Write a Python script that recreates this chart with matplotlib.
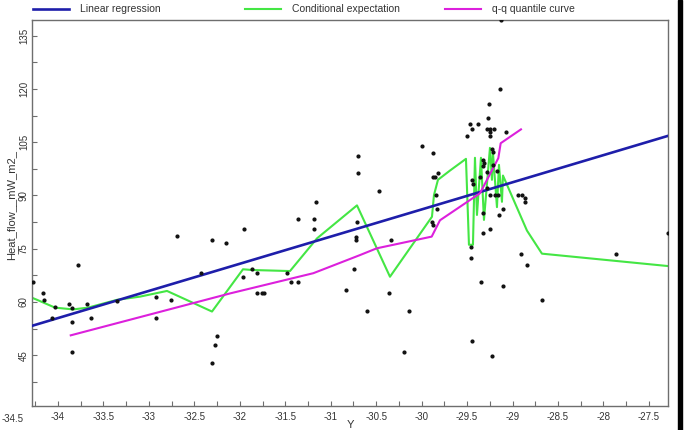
import numpy as np
import matplotlib
matplotlib.use('Agg')
import matplotlib.pyplot as plt
from matplotlib.patches import Rectangle
import matplotlib.ticker as mtick

plt.rcParams['font.family'] = ['Liberation Sans Narrow', 'Liberation Sans', 'DejaVu Sans']

# ── Data ────────────────────────────────────────────────────────────────────
pts_x = [-34.278, -34.168, -34.154, -34.033, -34.069, -33.876, -33.849, -33.849, -33.849,
         -33.783, -33.678, -33.640, -33.354, -32.925, -32.925, -32.754, -32.691, -32.424,
         -32.309, -32.148, -31.954, -32.254, -32.270, -32.309, -31.961, -31.869, -31.814,
         -31.814, -31.752, -31.730, -31.437, -31.363, -31.484, -31.356, -31.184, -31.184,
         -31.158, -30.828, -30.747, -30.722, -30.722, -30.707, -30.696, -30.696, -30.604,
         -30.472, -30.355, -30.337, -30.197, -30.139, -29.996, -29.875, -29.875, -29.856,
         -29.823, -29.842, -29.834, -29.889, -29.878,
         -29.138, -29.255, -29.266, -29.467, -29.376, -29.442, -29.277, -29.248, -29.204,
         -29.248, -29.248, -29.504, -29.072, -29.229, -29.211, -29.328, -29.310, -29.328,
         -29.211, -29.284, -29.174, -29.449, -29.431, -29.358, -29.284, -29.248, -29.193,
         -29.156, -28.936, -28.899, -28.862, -28.862, -29.321, -29.145, -29.101, -29.248,
         -29.321, -29.457, -29.457, -29.350, -29.101, -28.910, -28.837, -28.676, -29.442,
         -29.229, -27.858, -27.286, -29.13]
pts_y = [65.5, 62.5, 60.5, 58.6, 55.5, 59.5, 58.4, 54.4, 45.8,
         70.3, 59.5, 55.4, 60.4, 61.5, 55.5, 60.5, 78.5, 68.2,
         77.5, 76.5, 80.5, 50.4, 48.0, 42.9, 67.1, 69.2, 68.2,
         62.4, 62.4, 62.4, 65.5, 65.5, 68.2, 83.5, 83.5, 80.5,
         88.2, 63.5, 69.3, 78.4, 77.5, 82.5, 101.1, 96.2, 57.4,
         91.2, 62.4, 77.5, 45.9, 57.4, 103.8, 102.0, 95.3, 95.3,
         96.2, 90.2, 86.1, 82.6, 81.7,
         120.0, 115.8, 111.7, 110.0, 110.0, 108.7, 108.7, 108.7, 108.7,
         107.8, 106.8, 106.8, 107.8, 103.1, 102.2, 100.0, 99.2, 98.4,
         98.6, 96.7, 96.9, 94.4, 93.2, 95.3, 92.0, 90.1, 90.1,
         90.1, 90.1, 90.1, 89.2, 88.2, 85.1, 84.5, 86.2, 80.5,
         79.5, 75.4, 72.3, 65.6, 64.5, 73.4, 70.3, 60.5, 48.9,
         44.9, 73.4, 79.5, 139.3]

reg_x = [-34.283, -27.286]
reg_y = [53.3, 106.8]

cond_x = [-34.278, -34.231, -34.033, -33.835, -33.670, -33.351, -33.098, -32.801, -32.306,
          -31.965, -31.866, -31.448, -31.151, -30.711, -30.348, -29.886, -29.864, -29.820,
          -29.688, -29.512, -29.479, -29.435, -29.413, -29.391, -29.347, -29.314, -29.248,
          -29.226, -29.215, -29.171, -29.149, -29.116, -29.105, -28.841, -28.676, -27.286]
cond_y = [61.1, 60.6, 58.4, 57.9, 58.4, 60.6, 61.5, 63.1, 57.3,
          69.2, 69.0, 68.7, 77.9, 87.2, 67.1, 84.0, 90.1, 94.4,
          97.0, 100.3, 76.1, 76.1, 100.6, 84.5, 100.6, 83.1, 103.4,
          94.4, 101.9, 86.7, 98.6, 88.2, 95.6, 80.1, 73.6, 70.1]

qq_x = [-33.860, -32.108, -31.191, -30.678, -30.494, -29.889, -29.798, -29.358,
        -29.156, -29.130, -28.907]
qq_y = [50.6, 62.4, 68.1, 73.2, 75.1, 78.4, 83.0, 90.6, 100.5, 104.7, 108.6]

x_ticks = [-34, -33.5, -33, -32.5, -32, -31.5, -31, -30.5, -30, -29.5, -29, -28.5, -28, -27.5]
y_ticks = [45, 60, 75, 90, 105, 120, 135]

BLUE = '#1e1eaa'
GREEN = '#44e644'
MAGENTA = '#dc20dc'
SPINE = '#6e6e6e'
TXT = '#333333'

# ── Figure ──────────────────────────────────────────────────────────────────
fig = plt.figure(figsize=(6.85, 4.30), dpi=100)
fig.patch.set_facecolor('white')
ax = fig.add_axes([32.3 / 685, 1 - 406 / 430, (668.3 - 32.3) / 685, (406 - 20) / 430])

l_reg, = ax.plot(reg_x, reg_y, color=BLUE, linewidth=1.9, label='Linear regression', zorder=3)
l_cond, = ax.plot(cond_x, cond_y, color=GREEN, linewidth=1.5, label='Conditional expectation', zorder=2)
l_qq, = ax.plot(qq_x, qq_y, color=MAGENTA, linewidth=1.5, label='q-q quantile curve', zorder=3)
ax.plot(pts_x, pts_y, linestyle='none', marker='o', markersize=2.0, color='#111111', zorder=4)

ax.set_xlim(-34.283, -27.286)
ax.set_ylim(30.7, 139.4)

ax.set_xticks(x_ticks)
ax.set_xticklabels([f'{t:g}' for t in x_ticks])
ax.xaxis.set_minor_locator(mtick.MultipleLocator(0.25))
ax.set_yticks(y_ticks)
ax.yaxis.set_minor_locator(mtick.MultipleLocator(7.5))
ax.tick_params(which='both', direction='in', length=3.5, width=0.8, color=SPINE,
               top=False, right=False, labelsize=7, labelcolor=TXT)
ax.tick_params(axis='x', pad=4)
ax.tick_params(axis='y', pad=2.5)
for lab in ax.get_yticklabels():
    lab.set_rotation(90)
    lab.set_va('center')

# the -34.5 label sits left of the plotting area in the original
ax.text(-34.5, -0.022, '-34.5', transform=ax.get_xaxis_transform(), ha='center', va='top',
        fontsize=7, color=TXT, clip_on=False)

for sp in ax.spines.values():
    sp.set_color(SPINE)
    sp.set_linewidth(1.0)

ax.set_xlabel('Y', fontsize=8, color=TXT, labelpad=-1)
ax.set_ylabel('Heat_flow__mW_m2_', fontsize=8, color=TXT)
ax.yaxis.set_label_coords(-(32.3 - 16) / 636, 0.52)

# legend entries spread across the top, one per series
for handle, xpos in [(l_reg, 33), (l_cond, 245), (l_qq, 445)]:
    fig.legend(handles=[handle], loc='center left', bbox_to_anchor=(xpos / 685, 1 - 9.5 / 430),
               frameon=False, fontsize=7.5, handlelength=3.5, handletextpad=1.0,
               borderaxespad=0, borderpad=0, labelcolor=TXT)

# black border strip on the right edge
fig.add_artist(Rectangle((678 / 685, 0), 4 / 685, 1, transform=fig.transFigure,
                         color='black', zorder=10))

fig.savefig('out.png', dpi=100)
